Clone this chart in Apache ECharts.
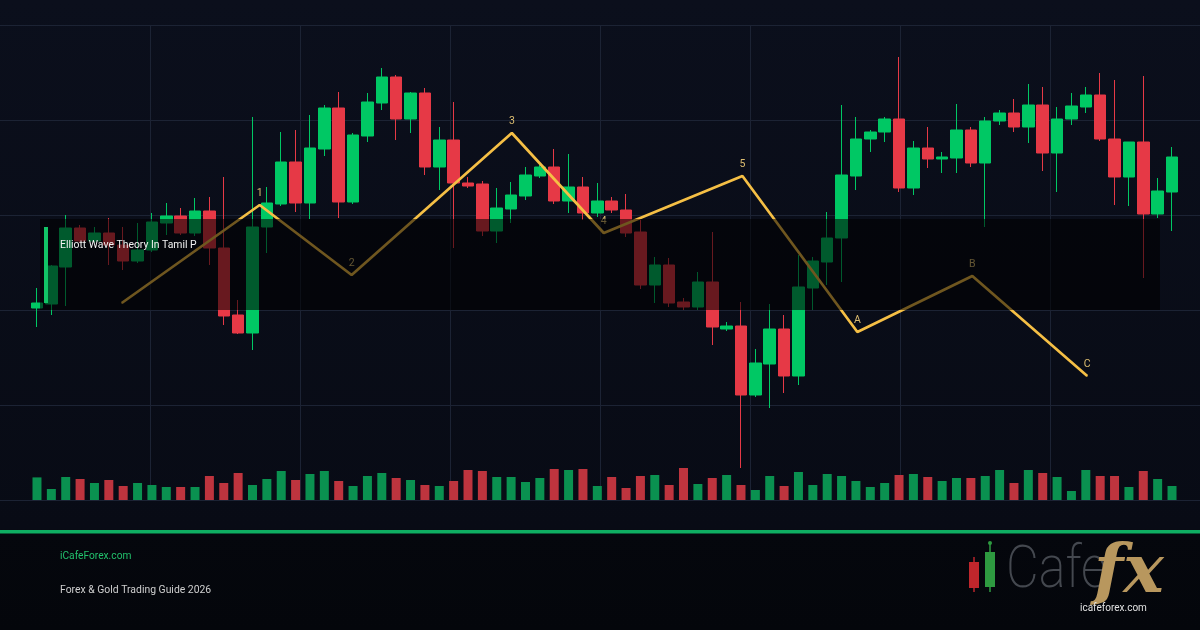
<!DOCTYPE html>
<html>
<head>
<meta charset="utf-8">
<script src="https://cdn.jsdelivr.net/npm/echarts@6/dist/echarts.min.js"></script>
<style>
  html, body { margin: 0; padding: 0; background: #0a0e1a; }
  #chart { width: 1200px; height: 630px; }
</style>
</head>
<body>
<div id="chart"></div>
<script>
// candles: [open, close, low, high]
const candles = [
  [2192, 2197, 2173, 2212], [2196, 2234, 2185, 2235], [2233, 2272, 2194, 2285], [2272, 2259, 2257, 2275],
  [2259, 2267, 2257, 2273], [2267, 2255, 2235, 2282], [2255, 2239, 2230, 2273], [2239, 2250, 2237, 2277],
  [2250, 2278, 2248, 2287], [2277, 2284, 2265, 2297], [2284, 2267, 2265, 2292], [2267, 2289, 2264, 2302],
  [2289, 2252, 2235, 2303], [2252, 2184, 2175, 2323], [2185, 2167, 2166, 2200], [2167, 2273, 2150, 2383],
  [2273, 2297, 2247, 2313], [2296, 2338, 2294, 2368], [2338, 2297, 2288, 2370], [2297, 2352, 2281, 2385],
  [2351, 2392, 2344, 2395], [2392, 2298, 2282, 2408], [2298, 2365, 2296, 2367], [2364, 2398, 2358, 2407],
  [2397, 2423, 2390, 2432], [2423, 2381, 2360, 2425], [2381, 2407, 2367, 2408], [2407, 2333, 2325, 2412],
  [2333, 2360, 2310, 2373], [2360, 2317, 2252, 2398], [2317, 2314, 2312, 2323], [2316, 2269, 2264, 2319],
  [2269, 2292, 2257, 2312], [2291, 2305, 2277, 2318], [2304, 2325, 2300, 2333], [2324, 2333, 2322, 2335],
  [2333, 2299, 2296, 2351], [2299, 2313, 2287, 2346], [2313, 2287, 2280, 2323], [2287, 2299, 2283, 2317],
  [2299, 2290, 2287, 2303], [2290, 2267, 2263, 2306], [2268, 2215, 2211, 2280], [2215, 2235, 2197, 2243],
  [2235, 2197, 2193, 2242], [2198, 2193, 2190, 2202], [2193, 2218, 2190, 2228], [2218, 2173, 2155, 2268],
  [2171, 2174, 2169, 2178], [2174, 2105, 2032, 2198], [2105, 2137, 2103, 2151], [2136, 2171, 2092, 2196],
  [2171, 2124, 2107, 2185], [2124, 2213, 2115, 2245], [2212, 2239, 2190, 2243], [2238, 2262, 2215, 2288],
  [2262, 2325, 2218, 2395], [2324, 2361, 2310, 2383], [2361, 2368, 2348, 2370], [2368, 2381, 2358, 2383],
  [2381, 2312, 2308, 2443], [2312, 2352, 2305, 2359], [2352, 2341, 2332, 2373], [2341, 2343, 2327, 2348],
  [2342, 2370, 2327, 2396], [2370, 2337, 2333, 2373], [2337, 2379, 2273, 2383], [2379, 2387, 2375, 2390],
  [2387, 2373, 2368, 2401], [2373, 2395, 2357, 2416], [2395, 2347, 2329, 2413], [2347, 2381, 2308, 2393],
  [2381, 2394, 2375, 2407], [2393, 2405, 2387, 2413], [2405, 2361, 2359, 2427], [2361, 2323, 2295, 2420],
  [2323, 2358, 2294, 2358], [2358, 2286, 2222, 2424], [2286, 2309, 2282, 2322], [2308, 2343, 2269, 2353]
];

const volumes = [
  2260, 1100, 2300, 2100, 1700, 2000, 1400, 1700, 1500, 1300,
  1300, 1300, 2400, 1700, 2700, 1500, 2100, 2900, 2000, 2600,
  2900, 1900, 1400, 2400, 2700, 2200, 2000, 1500, 1400, 1900,
  3000, 2900, 2300, 2300, 1800, 2200, 3100, 3000, 3100, 1400,
  2300, 1200, 2400, 2500, 1500, 3200, 1600, 2200, 2500, 1500,
  1000, 2400, 1400, 2800, 1500, 2600, 2400, 1900, 1300, 1700,
  2500, 2600, 2300, 1900, 2200, 2200, 2400, 3000, 1700, 3000,
  2700, 2300, 900, 3000, 2400, 2400, 1300, 2900, 2100, 1400
];

const categories = candles.map((c, i) => 'Bar ' + (i + 1));

// Elliott wave pivots: [bar position, price]
const wavePoints = [
  [5.9, 2197], [15.5, 2295], [21.9, 2225], [33.05, 2367], [39.45, 2267],
  [49.1, 2324], [57.1, 2168], [65.1, 2224], [73.1, 2124]
];
const waveLabels = ['', '1', '2', '3', '4', '5', 'A', 'B', 'C'];

const chartTitle = 'Elliott Wave Theory In Tamil P';
const siteName = 'iCafeForex.com';
const subTitle = 'Forex & Gold Trading Guide 2026';
const logoUrl = 'icafeforex.com';

const UP = '#00c864';
const DOWN = '#e63946';
const VOL_UP = '#0a9150';
const VOL_DOWN = '#be343e';
const GOLD = '#f5bf45';

const chart = echarts.init(document.getElementById('chart'));

const volumeData = volumes.map((v, i) => ({
  value: v,
  itemStyle: { color: candles[i][1] >= candles[i][0] ? VOL_UP : VOL_DOWN }
}));

const waveData = wavePoints.map((p, i) => ({ value: p, name: waveLabels[i] }));

const option = {
  backgroundColor: new echarts.graphic.LinearGradient(0, 0, 0, 1, [
    { offset: 0, color: '#0b0f1c' },
    { offset: 0.84, color: '#080b15' },
    { offset: 0.845, color: '#05070d' },
    { offset: 1, color: '#04060b' }
  ]),
  animation: false,
  grid: [
    { left: 0, right: 0, top: 25, bottom: 130 },
    { left: 29.8, right: 20.8, top: 25, bottom: 130 }
  ],
  xAxis: [
    {
      gridIndex: 0, type: 'value', min: 0, max: 1200, interval: 150,
      axisLine: { show: false }, axisTick: { show: false }, axisLabel: { show: false },
      splitLine: {
        show: true, showMinLine: false, showMaxLine: false,
        lineStyle: { color: '#1c2334', width: 1 }
      }
    },
    {
      gridIndex: 1, type: 'category', data: categories, boundaryGap: true,
      axisLine: { show: false }, axisTick: { show: false }, axisLabel: { show: false },
      splitLine: { show: false }
    },
    {
      gridIndex: 1, type: 'value', min: -0.5, max: 79.5, show: false
    }
  ],
  yAxis: [
    {
      gridIndex: 0, type: 'value', min: 2000, max: 2475, interval: 95,
      axisLine: { show: false }, axisTick: { show: false }, axisLabel: { show: false },
      splitLine: { show: true, lineStyle: { color: '#1c2334', width: 1 } }
    },
    { gridIndex: 1, type: 'value', min: 2000, max: 2475, show: false },
    { gridIndex: 1, type: 'value', min: 0, max: 47500, show: false }
  ],
  series: [
    {
      name: 'Volume',
      type: 'bar',
      xAxisIndex: 1,
      yAxisIndex: 2,
      barWidth: 9,
      data: volumeData
    },
    {
      name: 'Price',
      type: 'candlestick',
      xAxisIndex: 1,
      yAxisIndex: 1,
      barWidth: 12,
      data: candles,
      itemStyle: {
        color: UP,
        color0: DOWN,
        borderColor: UP,
        borderColor0: DOWN,
        borderWidth: 1
      }
    },
    {
      name: 'Wave',
      type: 'line',
      xAxisIndex: 2,
      yAxisIndex: 1,
      data: waveData,
      symbol: 'circle',
      symbolSize: 1,
      lineStyle: { color: GOLD, width: 2.7 },
      itemStyle: { color: GOLD },
      label: {
        show: true,
        position: 'top',
        distance: 6,
        formatter: (p) => p.name,
        color: '#dcbd70',
        fontSize: 10.5,
        fontFamily: 'Roboto'
      },
      z: 5
    }
  ],
  graphic: [
    {
      type: 'rect', z: 100, silent: true,
      shape: { x: 40, y: 219, width: 1120, height: 91 },
      style: { fill: 'rgba(0,0,0,0.55)' }
    },
    {
      type: 'rect', z: 101, silent: true,
      shape: { x: 44, y: 227, width: 4, height: 76 },
      style: { fill: '#12c466' }
    },
    {
      type: 'text', z: 101, x: 60, y: 245,
      style: { text: chartTitle, fill: '#f2f2f2', font: '10.4px Roboto', verticalAlign: 'middle' }
    },
    {
      type: 'rect', z: 101, silent: true,
      shape: { x: 0, y: 530, width: 1200, height: 3.5 },
      style: { fill: '#0fae62' }
    },
    {
      type: 'text', z: 101, x: 60, y: 556,
      style: { text: siteName, fill: '#22c06c', font: '10.2px Roboto', verticalAlign: 'middle' }
    },
    {
      type: 'text', z: 101, x: 60, y: 590,
      style: { text: subTitle, fill: '#cfcfcf', font: '10.4px Roboto', verticalAlign: 'middle' }
    },
    // logo
    { type: 'line', z: 101, shape: { x1: 974, y1: 557, x2: 974, y2: 592 }, style: { stroke: '#b8252b', lineWidth: 1.5 } },
    { type: 'rect', z: 101, shape: { x: 969, y: 562, width: 10, height: 26 }, style: { fill: '#c0262c' } },
    { type: 'line', z: 101, shape: { x1: 990, y1: 543, x2: 990, y2: 592 }, style: { stroke: '#2e9a40', lineWidth: 1.5 } },
    { type: 'circle', z: 101, shape: { cx: 990, cy: 543, r: 2 }, style: { fill: '#2e9a40' } },
    { type: 'rect', z: 101, shape: { x: 985, y: 552, width: 10, height: 35 }, style: { fill: '#2e9a40' } },
    {
      type: 'text', z: 101, x: 1006, y: 572, scaleX: 0.84,
      style: { text: 'Cafe', fill: '#44484f', font: '200 60px Roboto', verticalAlign: 'middle' }
    },
    {
      type: 'text', z: 102, x: 1094, y: 574,
      style: { text: 'fx', fill: '#b8975e', font: 'italic bold 68px "DejaVu Serif"', verticalAlign: 'middle' }
    },
    {
      type: 'text', z: 103, x: 1080, y: 608,
      style: { text: logoUrl, fill: '#e2e2e2', font: '10px Roboto', verticalAlign: 'middle' }
    }
  ]
};

chart.setOption(option);
</script>
</body>
</html>
